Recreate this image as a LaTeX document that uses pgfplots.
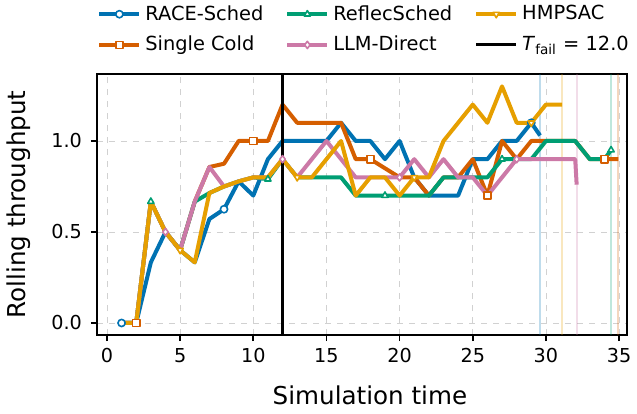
\documentclass[border=0pt]{standalone}
\usepackage{fontspec}
\setmainfont{DejaVu Sans}
\usepackage{pgfplots}
\pgfplotsset{compat=1.18}

\definecolor{cblue}{HTML}{0072B2}
\definecolor{cverm}{HTML}{D55E00}
\definecolor{cgreen}{HTML}{009E73}
\definecolor{cpink}{HTML}{CC79A7}
\definecolor{corange}{HTML}{E69F00}

\pgfplotsset{
  run/.style={line width=2pt, line join=round, mark size=1.8pt,
    mark options={solid, fill=white, line width=0.8pt}},
  down/.style={mark=triangle*, mark options={solid, fill=white, line width=0.8pt, rotate=180}},
}

\begin{document}
\begin{tikzpicture}
\useasboundingbox (-48.5pt,-39pt) rectangle (270pt,167.5pt);
\begin{axis}[
  scale only axis,
  width=265pt, height=130.5pt,
  xmin=-0.68, xmax=35.54, ymin=-0.066, ymax=1.368,
  xtick={0,5,...,35}, ytick={0,0.5,1},
  yticklabel style={/pgf/number format/fixed, /pgf/number format/precision=1,
    /pgf/number format/fixed zerofill, xshift=-1pt},
  /pgf/number format/assume math mode=true,
  grid=major, grid style={dashed, color=black!18, line width=0.4pt},
  axis line style={line width=0.8pt},
  tick align=outside, tick pos=left, major tick length=3pt,
  tick style={black, line width=0.8pt},
  ticklabel style={font=\fontsize{9.6}{11}\selectfont},
  label style={font=\fontsize{12.3}{14}\selectfont},
  xlabel={Simulation time}, ylabel={Rolling throughput},
  xlabel style={at={(axis description cs:0.515,-0.23)}, anchor=center},
  ylabel style={at={(axis description cs:-0.148,0.5)}, anchor=center},
  legend columns=3,
  legend cell align=left,
  legend image code/.code={\draw[mark repeat=2,mark phase=2]
    plot coordinates {(0pt,0pt)(10pt,0pt)(20pt,0pt)};},
  legend style={draw=none, fill=none, font=\fontsize{9.7}{12}\selectfont,
    at={(axis description cs:0.0,1.28)}, anchor=north west,
    inner sep=0pt, row sep=2.5pt,
    /tikz/every even column/.append style={column sep=9pt}},
]
% finish times of each method
\addplot[cblue, opacity=0.25, line width=1pt, forget plot] coordinates {(29.6,-0.066) (29.6,1.368)};
\addplot[corange, opacity=0.25, line width=1pt, forget plot] coordinates {(31.1,-0.066) (31.1,1.368)};
\addplot[cpink, opacity=0.25, line width=1pt, forget plot] coordinates {(32.1,-0.066) (32.1,1.368)};
\addplot[cgreen, opacity=0.25, line width=1pt, forget plot] coordinates {(34.45,-0.066) (34.45,1.368)};
\addplot[cverm, opacity=0.25, line width=1pt, forget plot] coordinates {(34.95,-0.066) (34.95,1.368)};

% RACE-Sched
\addplot[run, cblue, mark=*, mark indices={1,8,29}, forget plot] coordinates {
(1,0)(2,0)(3,0.333)(4,0.5)(5,0.4)(6,0.333)(7,0.571)(8,0.625)(9,0.778)(10,0.7)
(11,0.9)(12,1.0)(13,1.0)(14,1.0)(15,1.0)(16,1.1)(17,1.0)(18,1.0)(19,0.9)(20,1.0)
(21,0.8)(22,0.7)(23,0.7)(24,0.7)(25,0.9)(26,0.9)(27,1.0)(28,1.0)(29,1.1)(29.6,1.03)};
% Single Cold
\addplot[run, cverm, mark=square*, mark indices={2,10,18,26,34}, forget plot] coordinates {
(1,0)(2,0)(3,0.667)(4,0.5)(5,0.4)(6,0.667)(7,0.857)(8,0.875)(9,1.0)(10,1.0)
(11,1.0)(12,1.2)(13,1.1)(14,1.1)(15,1.1)(16,1.1)(17,0.9)(18,0.9)(19,0.85)(20,0.8)
(21,0.8)(22,0.7)(23,0.8)(24,0.8)(25,0.9)(26,0.7)(27,1.0)(28,0.9)(29,1.0)(30,1.0)
(31,1.0)(32,1.0)(33,0.9)(34,0.9)(34.95,0.9)};
% ReflecSched
\addplot[run, cgreen, mark=triangle*, mark indices={3,11,19,27,35}, forget plot] coordinates {
(1,0)(2,0)(3,0.667)(4,0.5)(5,0.4)(6,0.667)(7,0.714)(8,0.75)(9,0.778)(10,0.8)
(11,0.79)(12,0.9)(13,0.8)(14,0.8)(15,0.8)(16,0.8)(17,0.7)(18,0.7)(19,0.7)(20,0.7)
(21,0.7)(22,0.7)(23,0.8)(24,0.8)(25,0.8)(26,0.8)(27,0.9)(28,0.9)(29,0.9)(30,1.0)
(31,1.0)(32,1.0)(33,0.9)(34,0.9)(34.45,0.95)};
% LLM-Direct
\addplot[run, cpink, mark=diamond*, mark indices={4,12,20,28}, forget plot] coordinates {
(1,0)(2,0)(3,0.667)(4,0.5)(5,0.4)(6,0.667)(7,0.857)(8,0.75)(9,0.778)(10,0.8)
(11,0.8)(12,0.9)(13,0.8)(14,0.9)(15,1.0)(16,0.9)(17,0.8)(18,0.8)(19,0.8)(20,0.8)
(21,0.9)(22,0.8)(23,0.9)(24,0.8)(25,0.8)(26,0.7)(27,0.8)(28,0.9)(29,0.9)(30,0.9)
(31,0.9)(32,0.9)(32.1,0.76)};
% HMPSAC
\addplot[run, down, corange, mark indices={5,13,21,29}, forget plot] coordinates {
(1,0)(2,0)(3,0.667)(4,0.5)(5,0.4)(6,0.333)(7,0.714)(8,0.75)(9,0.778)(10,0.8)
(11,0.8)(12,0.9)(13,0.8)(14,0.8)(15,0.9)(16,1.0)(17,0.7)(18,0.8)(19,0.8)(20,0.7)
(21,0.8)(22,0.8)(23,1.0)(24,1.1)(25,1.2)(26,1.1)(27,1.3)(28,1.1)(29,1.1)(30,1.2)
(31,1.2)(31.1,1.2)};
% failure time
\addplot[black, line width=1.5pt, forget plot] coordinates {(12,-0.066) (12,1.368)};

% legend, row by row
\addlegendimage{run, cblue, mark=*}
\addlegendentry{RACE-Sched}
\addlegendimage{run, cgreen, mark=triangle*}
\addlegendentry{ReflecSched}
\addlegendimage{run, down, corange}
\addlegendentry{HMPSAC}
\addlegendimage{run, cverm, mark=square*}
\addlegendentry{Single Cold}
\addlegendimage{run, cpink, mark=diamond*}
\addlegendentry{LLM-Direct}
\addlegendimage{black, line width=1.5pt}
\addlegendentry{\textit{T}\textsubscript{fail} = 12.0}
\end{axis}
\end{tikzpicture}
\end{document}
